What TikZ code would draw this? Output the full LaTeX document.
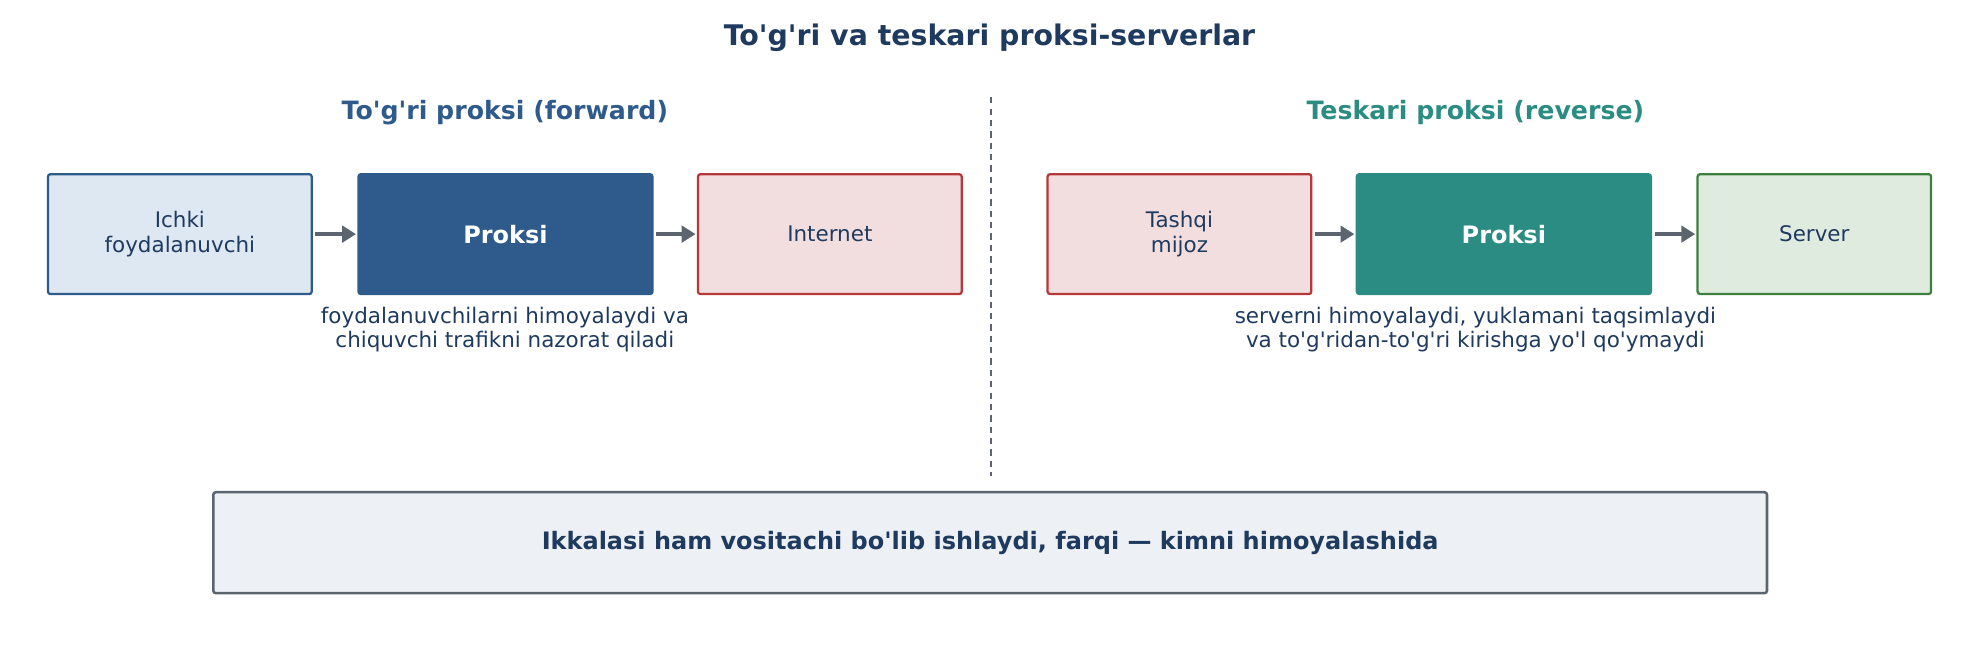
\documentclass[tikz,border=0pt]{standalone}
\usepackage{fontspec}
\setmainfont{DejaVu Sans}
\usetikzlibrary{arrows.meta}
\definecolor{navy}{HTML}{1F3A5F}
\definecolor{fblue}{HTML}{2E5B8C}
\definecolor{teal}{HTML}{2A8C82}
\definecolor{lblue}{HTML}{DDE8F2}
\definecolor{lred}{HTML}{F2DEDE}
\definecolor{dred}{HTML}{B5393A}
\definecolor{lgreen}{HTML}{E0EBE0}
\definecolor{dgreen}{HTML}{3D7F3D}
\definecolor{gr}{HTML}{5C6470}
\definecolor{lgray}{HTML}{EDF1F6}
\newcommand{\q}{\textquotesingle}
\begin{document}
\begin{tikzpicture}[x=1pt,y=-1pt,
  box/.style={draw, line width=1.8pt, rounded corners=2pt, minimum height=95pt, align=center, text=navy, font=\fontsize{17}{19.5}\selectfont, inner sep=0pt},
  arr/.style={-{Triangle[length=11pt,width=13pt]}, line width=3pt, draw=gr, shorten <=2pt, shorten >=1pt},
  captxt/.style={text=navy, align=center, font=\fontsize{17}{19}\selectfont}]
\useasboundingbox (0,0) rectangle (1568,522);
\node[text=navy, font=\fontsize{22.5}{26}\selectfont\bfseries] (t) at (784,30) {To\q g\q ri va teskari proksi-serverlar};
\node[text=fblue, font=\fontsize{20}{24}\selectfont\bfseries] (s1) at (400,89) {To\q g\q ri proksi (forward)};
\node[text=teal, font=\fontsize{20}{24}\selectfont\bfseries] (s2) at (1169,89) {Teskari proksi (reverse)};
\coordinate (d1) at (785,77); \coordinate (d2) at (785,377);
\draw[gr, line width=1.5pt, dash pattern=on 5pt off 4pt] (d1) -- (d2);
\node[box, draw=fblue, fill=lblue, minimum width=209pt] (a) at (142.5,185.5) {Ichki\\foydalanuvchi};
\node[box, draw=fblue, fill=fblue, text=white, minimum width=233pt, font=\fontsize{19}{22}\selectfont\bfseries] (b) at (400.5,185.5) {Proksi};
\node[box, draw=dred, fill=lred, minimum width=209pt] (c) at (657.5,185.5) {Internet};
\node[box, draw=dred, fill=lred, minimum width=209pt] (d) at (934.5,185.5) {Tashqi\\mijoz};
\node[box, draw=teal, fill=teal, text=white, minimum width=233pt, font=\fontsize{19}{22}\selectfont\bfseries] (e) at (1191.5,185.5) {Proksi};
\node[box, draw=dgreen, fill=lgreen, minimum width=185pt] (f) at (1437.5,185.5) {Server};
\draw[arr] (a) -- (b); \draw[arr] (b) -- (c);
\draw[arr] (d) -- (e); \draw[arr] (e) -- (f);
\node[captxt] (c1) at (400,261) {foydalanuvchilarni himoyalaydi va\\chiquvchi trafikni nazorat qiladi};
\node[captxt] (c2) at (1169,261) {serverni himoyalaydi, yuklamani taqsimlaydi\\va to\q g\q ridan-to\q g\q ri kirishga yo\q l qo\q ymaydi};
\node[draw=gr, line width=2pt, fill=lgray, rounded corners=2pt, minimum width=1231pt, minimum height=80pt, text=navy, font=\fontsize{19}{22}\selectfont\bfseries] (g) at (784.5,430) {Ikkalasi ham vositachi bo\q lib ishlaydi, farqi — kimni himoyalashida};
\end{tikzpicture}
\end{document}
